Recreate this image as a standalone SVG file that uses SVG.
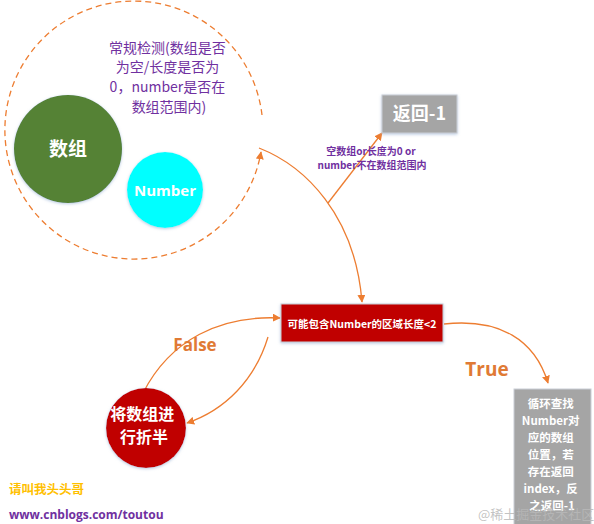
<svg xmlns="http://www.w3.org/2000/svg" width="594" height="524" viewBox="0 0 594 524">
<style>
.cjk{font-family:"Noto Sans CJK SC","Liberation Sans",sans-serif}
.lat{font-family:"Open Sans","Noto Sans CJK SC",sans-serif}
.conn{fill:none;stroke:#ED7D31;stroke-width:1.3}
.w{fill:#FFFFFF}
</style>
<defs>
<marker id="ah" viewBox="0 0 10 10" refX="9" refY="5" markerWidth="8" markerHeight="8" orient="auto" markerUnits="userSpaceOnUse">
<path d="M0,0 L10,5 L0,10 Z" fill="#ED7D31"/>
</marker>
<filter id="sh" x="-20%" y="-20%" width="140%" height="140%">
<feDropShadow dx="0" dy="1" stdDeviation="1.5" flood-color="#9DB5D6" flood-opacity="0.7"/>
</filter>
</defs>
<rect width="594" height="524" fill="#FFFFFF"/>

<g id="connectors">
<path class="conn" d="M262,115 A129,129 0 1 0 261,152" stroke-dasharray="6,4" marker-end="url(#ah)"/>
<path class="conn" d="M259,148 C305,166 355,215 362,302" marker-end="url(#ah)"/>
<path class="conn" d="M328,203 L382,133" marker-end="url(#ah)"/>
<path class="conn" d="M143,393 C170,340 220,315 280,318" marker-end="url(#ah)"/>
<path class="conn" d="M268,337 C255,380 225,410 187,423" marker-end="url(#ah)"/>
<path class="conn" d="M444,324 C500,318 535,340 548,383" marker-end="url(#ah)"/>
</g>

<g id="label-check">
<text class="cjk" font-size="14" fill="#7030A0" text-anchor="middle">
<tspan x="169" y="53">常规检测(数组是否</tspan>
<tspan x="169" y="72">为空/长度是否为</tspan>
<tspan x="169" y="92">0，number是否在</tspan>
<tspan x="169" y="112">数组范围内)</tspan>
</text>
</g>

<g id="node-array">
<circle cx="68" cy="149" r="54" fill="#548235" filter="url(#sh)"/>
<text class="cjk w" x="68" y="156" font-size="19" font-weight="bold" text-anchor="middle">数组</text>
</g>

<g id="node-number">
<circle cx="165" cy="190" r="38" fill="#00FFFF" filter="url(#sh)"/>
<text class="lat w" x="165" y="196" font-size="15" font-weight="bold" text-anchor="middle">Number</text>
</g>

<g id="node-return">
<rect x="382" y="95" width="75" height="38" fill="#A5A5A5" stroke="#C9CED6" stroke-width="1" filter="url(#sh)"/>
<text class="cjk w" x="419.5" y="120" font-size="18" font-weight="bold" text-anchor="middle">返回-1</text>
</g>

<g id="label-empty">
<text class="cjk" font-size="10" font-weight="bold" fill="#7030A0" text-anchor="middle">
<tspan x="372" y="155">空数组or长度为0 or</tspan>
<tspan x="372" y="169">number不在数组范围内</tspan>
</text>
</g>

<g id="node-condition">
<rect x="281" y="304" width="162" height="38" fill="#C00000" stroke="#C9CED6" stroke-width="1" filter="url(#sh)"/>
<text class="cjk w" x="362" y="328" font-size="10.5" font-weight="bold" text-anchor="middle">可能包含Number的区域长度&lt;2</text>
</g>

<g id="label-false">
<text class="lat" x="195" y="351" font-size="17" font-weight="bold" fill="#E07A35" text-anchor="middle">False</text>
</g>

<g id="node-halve">
<circle cx="146" cy="428" r="40" fill="#C00000" filter="url(#sh)"/>
<text class="cjk w" font-size="16" font-weight="bold" text-anchor="middle">
<tspan x="144" y="420">将数组进</tspan>
<tspan x="144" y="443">行折半</tspan>
</text>
</g>

<g id="label-true">
<text class="lat" x="487" y="376" font-size="19" font-weight="bold" fill="#E07A35" text-anchor="middle">True</text>
</g>

<g id="node-loop">
<rect x="514" y="389" width="77" height="140" fill="#A5A5A5" stroke="#C9CED6" stroke-width="1"/>
<text class="cjk w" font-size="11.5" font-weight="bold" text-anchor="middle">
<tspan x="552" y="408">循环查找</tspan>
<tspan x="552" y="425">Number对</tspan>
<tspan x="552" y="442">应的数组</tspan>
<tspan x="552" y="459">位置，若</tspan>
<tspan x="552" y="476">存在返回</tspan>
<tspan x="552" y="493">index，反</tspan>
<tspan x="552" y="510">之返回-1</tspan>
</text>
</g>

<g id="credits">
<text class="cjk" x="9" y="494" font-size="12.5" font-weight="bold" fill="#FFC000">请叫我头头哥</text>
<text class="lat" x="9" y="519" font-size="12" font-weight="bold" fill="#7030A0">www.cnblogs.com/toutou</text>
<text class="cjk" x="478" y="519" font-size="13" fill="#B8B8B8" fill-opacity="0.85">@稀土掘金技术社区</text>
</g>
</svg>
